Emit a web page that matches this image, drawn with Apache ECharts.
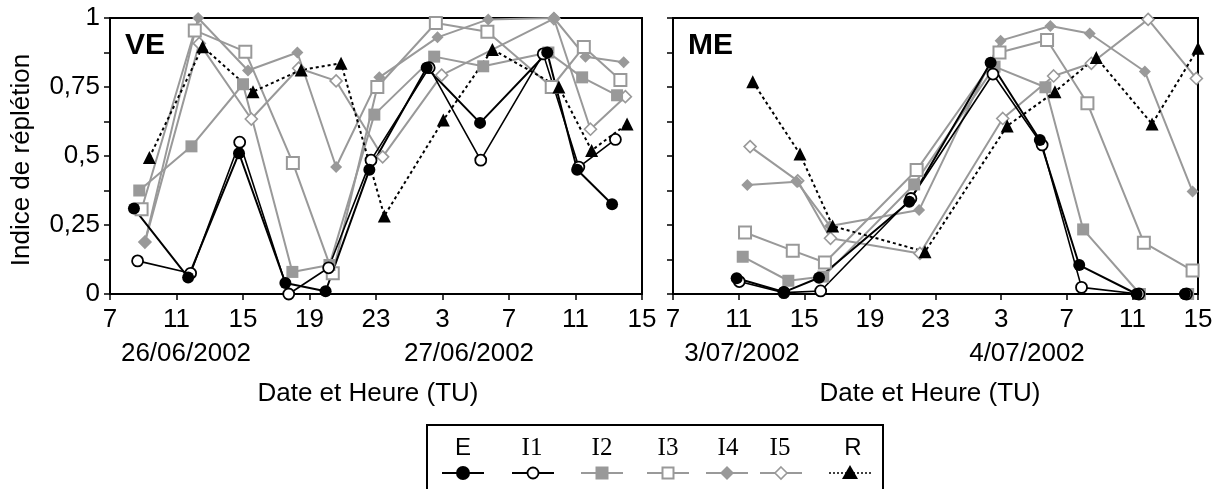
<!DOCTYPE html>
<html>
<head>
<meta charset="utf-8">
<script src="https://cdn.jsdelivr.net/npm/echarts@6/dist/echarts.min.js"></script>
<style>
  html, body { margin: 0; padding: 0; background: #fff; }
  #chart { width: 1226px; height: 489px; }
</style>
</head>
<body>
<div id="chart"></div>
<script>
// Sampling times are hours counted from 00:00 of the first day (so 27 = 03:00 next day).
// VE station, 26-27/06/2002
const veTimeE  = [8.44, 11.7, 14.76, 17.55, 19.97, 22.6, 26.05, 29.26, 33.3, 35.1, 37.2];
const veE      = [0.31, 0.06, 0.51, 0.04, 0.01, 0.45, 0.82, 0.62, 0.875, 0.45, 0.325];
const veTimeI1 = [8.66, 11.85, 14.8, 17.75, 20.15, 22.7, 26.2, 29.3, 33.06, 35.2, 37.4];
const veI1     = [0.12, 0.075, 0.55, 0.0, 0.095, 0.485, 0.82, 0.485, 0.87, 0.46, 0.56];
const veTimeI2 = [8.76, 11.9, 15.0, 17.97, 20.2, 22.9, 26.5, 29.45, 33.37, 35.4, 37.5];
const veI2     = [0.375, 0.535, 0.76, 0.08, 0.105, 0.65, 0.86, 0.825, 0.875, 0.785, 0.72];
const veTimeI3 = [8.9, 12.1, 15.14, 18.0, 20.4, 23.08, 26.6, 29.7, 33.57, 35.5, 37.7];
const veI3     = [0.307, 0.955, 0.878, 0.475, 0.075, 0.75, 0.982, 0.95, 0.75, 0.895, 0.775];
const veTimeI4 = [9.1, 12.3, 15.3, 18.27, 20.6, 23.2, 26.7, 29.75, 33.7, 35.6, 37.9];
const veI4     = [0.188, 1.0, 0.81, 0.875, 0.46, 0.785, 0.93, 0.995, 1.0, 0.86, 0.84];
const veTimeI5 = [9.1, 12.37, 15.5, 18.35, 20.6, 23.4, 26.95, 33.7, 35.9, 38.0];
const veI5     = [0.188, 0.908, 0.634, 0.818, 0.772, 0.497, 0.793, 0.998, 0.597, 0.715];
const veTimeR  = [9.37, 12.57, 15.6, 18.5, 20.9, 23.5, 27.05, 30.0, 34.0, 35.97, 38.1];
const veR      = [0.495, 0.896, 0.733, 0.812, 0.836, 0.283, 0.63, 0.886, 0.75, 0.52, 0.616];

// ME station, 3-4/07/2002
const meTimeE  = [10.88, 13.76, 15.9, 21.4, 26.36, 29.36, 31.76, 35.26, 38.2];
const meE      = [0.057, 0.007, 0.059, 0.334, 0.838, 0.558, 0.105, 0, 0];
const meTimeI1 = [11.04, 13.76, 16.0, 21.5, 26.5, 29.5, 31.9, 35.4, 38.3];
const meI1     = [0.045, 0.005, 0.011, 0.346, 0.797, 0.54, 0.024, 0, 0];
const meTimeI2 = [11.25, 14.03, 16.16, 21.7, 26.6, 29.7, 32.0, 35.46, 38.4];
const meI2     = [0.135, 0.048, 0.063, 0.397, 0.824, 0.749, 0.234, 0, 0];
const meTimeI3 = [11.39, 14.3, 16.26, 21.85, 26.9, 29.8, 32.26, 35.7, 38.67];
const meI3     = [0.223, 0.157, 0.114, 0.449, 0.875, 0.92, 0.691, 0.186, 0.085];
const meTimeI4 = [11.53, 14.54, 16.57, 22.0, 26.97, 30.0, 32.4, 35.76, 38.67];
const meI4     = [0.395, 0.407, 0.246, 0.304, 0.918, 0.971, 0.944, 0.806, 0.371];
const meTimeI5 = [11.7, 14.6, 16.6, 22.05, 27.1, 30.2, 32.5, 35.96, 38.9];
const meI5     = [0.534, 0.41, 0.202, 0.147, 0.636, 0.79, 0.836, 0.995, 0.781];
const meTimeR  = [11.86, 14.74, 16.73, 22.36, 27.37, 30.28, 32.8, 36.2, 39.0];
const meR      = [0.769, 0.507, 0.246, 0.153, 0.609, 0.733, 0.857, 0.616, 0.89];

const panelNames = ['VE', 'ME'];
const dayLabels  = [['26/06/2002', '27/06/2002'], ['3/07/2002', '4/07/2002']];
const seriesNames = ['E', 'I1', 'I2', 'I3', 'I4', 'I5', 'R'];
const yTitle = 'Indice de réplétion';
const xTitle = 'Date et Heure (TU)';

// Time axis starts at 07:00 of the first day; axis runs 0..32 h after it.
const T0 = 7;

const BLACK = '#000000';
const GREY = '#999999';
const SANS = 'Liberation Sans, Arial, sans-serif';
const SERIF = 'Liberation Serif, Times New Roman, serif';

// Per-series drawing styles
const styles = {
  E:  { symbol: 'circle',   size: 12, color: BLACK, fill: BLACK, border: 0,   line: 'solid', lw: 2 },
  I1: { symbol: 'circle',   size: 11, color: BLACK, fill: '#fff', border: 1.8, line: 'solid', lw: 1.6 },
  I2: { symbol: 'rect',     size: 12, color: GREY,  fill: GREY,  border: 0,   line: 'solid', lw: 2 },
  I3: { symbol: 'rect',     size: 12, color: GREY,  fill: '#fff', border: 2,   line: 'solid', lw: 2 },
  I4: { symbol: 'diamond',  size: 12, color: GREY,  fill: GREY,  border: 0,   line: 'solid', lw: 2 },
  I5: { symbol: 'diamond',  size: 12, color: GREY,  fill: '#fff', border: 1.6, line: 'solid', lw: 2 },
  R:  { symbol: 'triangle', size: 13, color: BLACK, fill: BLACK, border: 0,   line: [3, 3], lw: 2 }
};

const panels = [
  { E: [veTimeE, veE], I1: [veTimeI1, veI1], I2: [veTimeI2, veI2], I3: [veTimeI3, veI3],
    I4: [veTimeI4, veI4], I5: [veTimeI5, veI5], R: [veTimeR, veR] },
  { E: [meTimeE, meE], I1: [meTimeI1, meI1], I2: [meTimeI2, meI2], I3: [meTimeI3, meI3],
    I4: [meTimeI4, meI4], I5: [meTimeI5, meI5], R: [meTimeR, meR] }
];

const gridBoxes = [
  { left: 110, top: 18, width: 532, height: 276 },
  { left: 673, top: 18, width: 525, height: 276 }
];

function pairs(times, vals) {
  return times.map((t, i) => [t - T0, vals[i]]);
}

// grey series first, black ones on top
const drawOrder = ['I5', 'I4', 'I3', 'I2', 'R', 'I1', 'E'];
const series = [];
panels.forEach((p, pi) => {
  drawOrder.forEach(name => {
    const s = styles[name];
    series.push({
      name: name,
      type: 'line',
      xAxisIndex: pi,
      yAxisIndex: pi,
      data: pairs(p[name][0], p[name][1]),
      symbol: s.symbol,
      symbolSize: s.size,
      showAllSymbol: true,
      clip: false,
      animation: false,
      lineStyle: { color: s.color, width: s.lw, type: s.line },
      itemStyle: { color: s.fill, borderColor: s.color, borderWidth: s.border },
      emphasis: { disabled: true }
    });
  });
});

function yLabel(v) {
  const q = v * 4;
  if (Math.abs(q - Math.round(q)) > 1e-6) return '';
  return String(Math.round(v * 100) / 100).replace('.', ',');
}

const xAxes = gridBoxes.map((g, i) => ({
  type: 'value', gridIndex: i, min: 0, max: 32, interval: 4,
  axisLine: { show: true, lineStyle: { color: BLACK, width: 2 } },
  axisTick: { show: true, inside: false, length: 6, lineStyle: { color: BLACK, width: 1.5 } },
  splitLine: { show: false },
  axisLabel: {
    show: true, margin: 13, color: BLACK, fontSize: 26, fontFamily: SANS,
    showMinLabel: true, showMaxLabel: true,
    formatter: v => String((v + T0) % 24)
  }
}));

const yAxes = gridBoxes.map((g, i) => ({
  type: 'value', gridIndex: i, min: 0, max: 1, interval: 0.125,
  axisLine: { show: true, lineStyle: { color: BLACK, width: 2 } },
  axisTick: { show: true, inside: false, length: 6, lineStyle: { color: BLACK, width: 1.5 } },
  splitLine: { show: false },
  axisLabel: {
    show: i === 0, margin: 10, color: BLACK, fontSize: 26, fontFamily: SANS,
    formatter: yLabel
  }
}));

const grids = gridBoxes.map(g => Object.assign({
  show: true, borderColor: BLACK, borderWidth: 2, backgroundColor: 'transparent'
}, g));

// Text overlays: panel tags, axis titles, day labels
const graphics = [];
graphics.push({ type: 'text', x: 125, y: 46, style: { text: panelNames[0], font: 'bold 30px ' + SANS, fill: BLACK, verticalAlign: 'middle' } });
graphics.push({ type: 'text', x: 688, y: 46, style: { text: panelNames[1], font: 'bold 30px ' + SANS, fill: BLACK, verticalAlign: 'middle' } });
graphics.push({
  type: 'text', x: 22, y: 160, rotation: Math.PI / 2,
  style: { text: yTitle, font: '26px ' + SANS, fill: BLACK, align: 'center', verticalAlign: 'middle' }
});
const dayCenters = [[186, 469], [742, 1027]];
dayLabels.forEach((pair, pi) => {
  pair.forEach((txt, k) => {
    graphics.push({ type: 'text', x: dayCenters[pi][k], y: 354,
      style: { text: txt, font: '26px ' + SANS, fill: BLACK, align: 'center', verticalAlign: 'middle' } });
  });
});
[368, 930].forEach(cx => {
  graphics.push({ type: 'text', x: cx, y: 394,
    style: { text: xTitle, font: '26px ' + SANS, fill: BLACK, align: 'center', verticalAlign: 'middle' } });
});

// Legend box
graphics.push({ type: 'rect', shape: { x: 427, y: 425, width: 456, height: 90 },
  style: { fill: '#fff', stroke: BLACK, lineWidth: 2 } });
const legendX = { E: 463, I1: 533, I2: 602, I3: 668, I4: 727, I5: 781, R: 850 };
const legendLabelX = { E: 463, I1: 532, I2: 602, I3: 668, I4: 728, I5: 780, R: 853 };
const legendLabelY = 448, legendSymY = 473, half = 21;
seriesNames.forEach(name => {
  const s = styles[name];
  const cx = legendX[name];
  const serif = name.charAt(0) === 'I';
  graphics.push({ type: 'text', x: legendLabelX[name], y: legendLabelY,
    style: { text: name, font: (serif ? '25px ' + SERIF : '24px ' + SANS), fill: BLACK, align: 'center', verticalAlign: 'middle' } });
  graphics.push({ type: 'line', shape: { x1: cx - half, y1: legendSymY, x2: cx + half, y2: legendSymY },
    style: { stroke: s.color, lineWidth: name === 'R' ? 1.6 : 2, lineDash: name === 'R' ? [2, 2] : null } });
  let shape;
  if (s.symbol === 'circle') {
    shape = { type: 'circle', shape: { cx: cx, cy: legendSymY, r: name === 'E' ? 7 : 5.5 } };
  } else if (s.symbol === 'rect') {
    const w = name === 'I2' ? 13 : 11;
    shape = { type: 'rect', shape: { x: cx - w / 2, y: legendSymY - w / 2, width: w, height: w } };
  } else if (s.symbol === 'diamond') {
    const r = name === 'I4' ? 7 : 6;
    shape = { type: 'polygon', shape: { points: [[cx, legendSymY - r], [cx + r, legendSymY], [cx, legendSymY + r], [cx - r, legendSymY]] } };
  } else {
    shape = { type: 'polygon', shape: { points: [[cx, legendSymY - 8], [cx + 8, legendSymY + 6], [cx - 8, legendSymY + 6]] } };
  }
  shape.style = { fill: s.fill, stroke: s.color, lineWidth: s.border || 0 };
  graphics.push(shape);
});

const chart = echarts.init(document.getElementById('chart'), null, { renderer: 'canvas' });
chart.setOption({
  animation: false,
  backgroundColor: '#ffffff',
  grid: grids,
  xAxis: xAxes,
  yAxis: yAxes,
  series: series,
  graphic: graphics
});
</script>
</body>
</html>
